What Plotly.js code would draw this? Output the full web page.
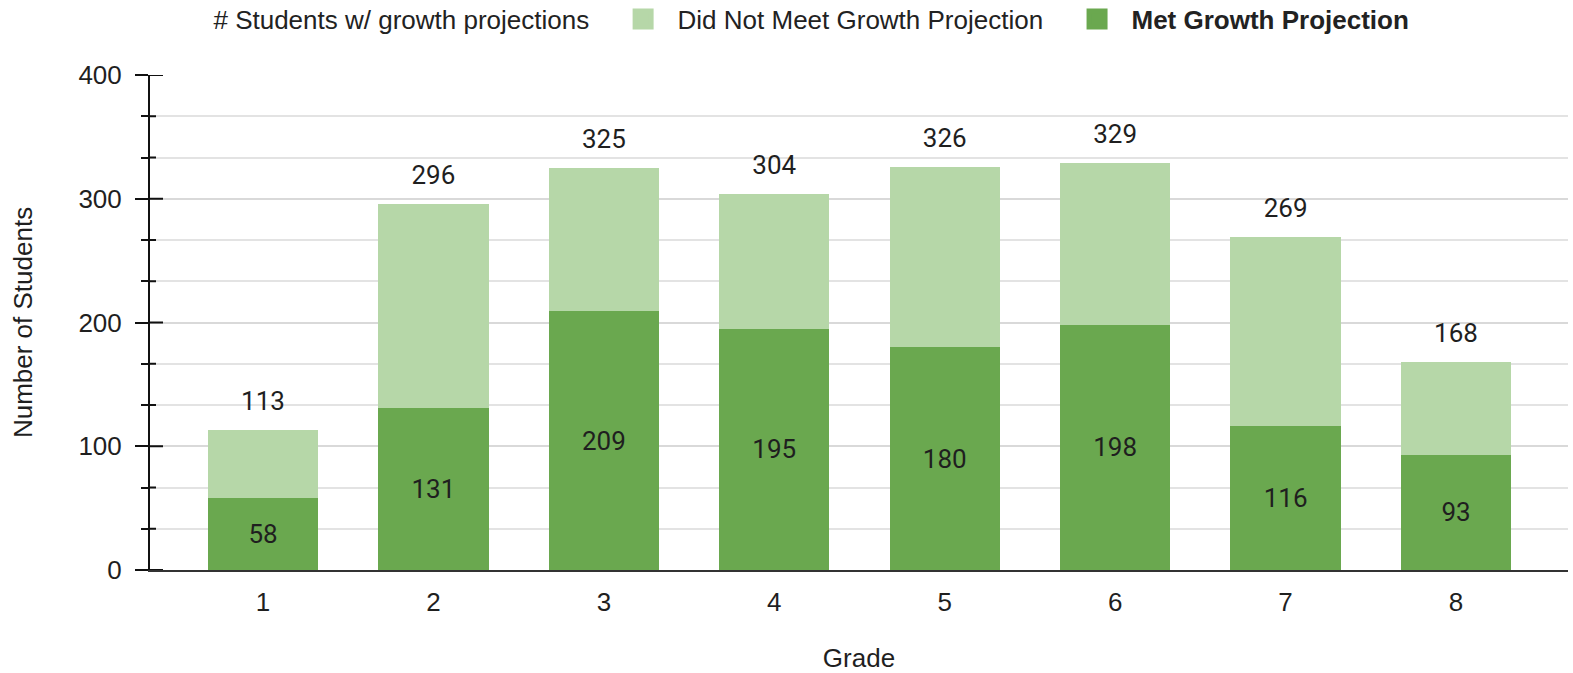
<!DOCTYPE html>
<html>
<head>
<meta charset="utf-8">
<script src="https://cdn.plot.ly/plotly-3.0.1.min.js"></script>
<style>
html,body{margin:0;padding:0;background:#fff;}
#chart{width:1573px;height:673px;}
</style>
</head>
<body>
<div id="chart"></div>
<script>
const grades = [1, 2, 3, 4, 5, 6, 7, 8];
const metGrowth = [58, 131, 209, 195, 180, 198, 116, 93];
const didNotMeet = [55, 165, 116, 109, 146, 131, 153, 75];
const totalStudents = [113, 296, 325, 304, 326, 329, 269, 168];
const yTickVals = [0, 100, 200, 300, 400];
const yTickText = ['0', '100', '200', '300', '400'];
const legendNames = ['# Students w/ growth projections', 'Did Not Meet Growth Projection', 'Met Growth Projection'];

const DARK = '#6aa84f';
const LIGHT = '#b6d7a8';
const TXT = '#1f1f1f';
const sans = 'Liberation Sans, Arial, sans-serif';
const labelFont = 'Roboto, sans-serif';
const pre = '\u00a0\u00a0';
const post = '\u00a0\u00a0\u00a0\u00a0';
const MINOR_STEP = 100 / 3;

const traces = [
  {
    type: 'bar', x: grades, y: metGrowth, name: legendNames[2],
    marker: {color: DARK}, showlegend: false,
    text: metGrowth.map(String), textposition: 'inside', insidetextanchor: 'middle',
    insidetextfont: {family: labelFont, size: 26, color: TXT},
    hoverinfo: 'x+y'
  },
  {
    type: 'bar', x: grades, y: didNotMeet, name: legendNames[1],
    marker: {color: LIGHT}, showlegend: false, hoverinfo: 'x+y'
  },
  {
    type: 'scatter', mode: 'markers+text', x: grades, y: totalStudents,
    name: legendNames[0],
    text: totalStudents.map(String), textposition: 'top center',
    textfont: {family: labelFont, size: 26, color: TXT},
    marker: {size: 20, color: 'rgba(0,0,0,0)'}, showlegend: false, hoverinfo: 'x+y'
  },
  // legend entries
  {
    type: 'scatter', mode: 'markers', x: [null], y: [null],
    name: pre + legendNames[0] + post, legendrank: 1,
    marker: {size: 16, color: 'rgba(0,0,0,0)'}
  },
  {
    type: 'scatter', mode: 'markers', x: [null], y: [null],
    name: pre + legendNames[1] + post, legendrank: 2,
    marker: {size: 16, symbol: 'square', color: LIGHT, line: {color: LIGHT, width: 10}}
  },
  {
    type: 'scatter', mode: 'markers', x: [null], y: [null],
    name: pre + '<b>' + legendNames[2] + '</b>', legendrank: 3,
    marker: {size: 16, symbol: 'square', color: DARK, line: {color: DARK, width: 10}}
  }
];

// inner halves of the y-axis ticks (ticks cross the axis line)
const tickShapes = [];
for (let v = 0; v <= 400 + 1e-6; v += MINOR_STEP) {
  const isMajor = yTickVals.some(t => Math.abs(t - v) < 1e-6);
  tickShapes.push({
    type: 'line', layer: 'above',
    xref: 'paper', xsizemode: 'pixel', xanchor: 0, x0: 0, x1: isMajor ? 13 : 6,
    yref: 'y', y0: v, y1: v,
    line: {color: '#111', width: 2}
  });
}
yTickVals.forEach(t => {
  if (Math.abs(t / MINOR_STEP - Math.round(t / MINOR_STEP)) > 1e-6) {
    tickShapes.push({
      type: 'line', layer: 'above',
      xref: 'paper', xsizemode: 'pixel', xanchor: 0, x0: 0, x1: 13,
      yref: 'y', y0: t, y1: t,
      line: {color: '#111', width: 2}
    });
  }
});

const layout = {
  width: 1573, height: 673,
  margin: {l: 150, r: 5, t: 75, b: 103},
  paper_bgcolor: '#fff', plot_bgcolor: '#fff',
  barmode: 'stack', bargap: 0.353,
  font: {family: sans, size: 26, color: TXT},
  showlegend: true,
  legend: {
    orientation: 'h', xref: 'container', x: 0.5, xanchor: 'center',
    yref: 'container', y: 1 - 19 / 673, yanchor: 'middle',
    traceorder: 'normal', font: {family: sans, size: 26, color: '#222'},
    itemclick: false, itemdoubleclick: false
  },
  xaxis: {
    type: 'linear', range: [0.337, 8.657],
    tickvals: grades, ticktext: grades.map(String),
    ticks: '', showgrid: false, zeroline: false,
    showline: true, linecolor: '#333', linewidth: 2,
    tickfont: {family: sans, size: 26, color: TXT},
    ticklabelstandoff: 8,
    title: {text: 'Grade', font: {family: sans, size: 26, color: TXT}, standoff: 45},
    automargin: false, fixedrange: true
  },
  yaxis: {
    range: [0, 400], tickvals: yTickVals, ticktext: yTickText,
    ticks: 'outside', ticklen: 13, tickwidth: 2, tickcolor: '#111',
    showline: true, linecolor: '#111', linewidth: 2,
    showgrid: true, gridcolor: '#d9d9d9', gridwidth: 2,
    zeroline: false,
    minor: {dtick: MINOR_STEP, tick0: 0, ticks: 'outside', ticklen: 7, tickwidth: 2, tickcolor: '#111',
            showgrid: true, gridcolor: '#e3e3e3', gridwidth: 2},
    tickfont: {family: sans, size: 26, color: TXT},
    ticklabelstandoff: 8,
    title: {text: 'Number of Students', font: {family: sans, size: 26, color: TXT}, standoff: 38},
    automargin: false, fixedrange: true
  },
  shapes: tickShapes
};

Plotly.newPlot('chart', traces, layout, {displayModeBar: false});
</script>
</body>
</html>
